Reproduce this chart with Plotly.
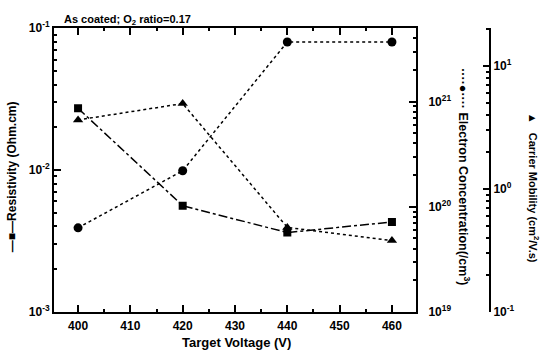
import plotly.graph_objects as go

voltage = [400, 420, 440, 460]
resistivity = [0.0272, 0.0056, 0.00362, 0.0043]
electron_conc = [6.3e19, 2.2e20, 3.7e21, 3.7e21]
mobility = [3.65, 4.96, 0.487, 0.38]

x_ticks = [400, 410, 420, 430, 440, 450, 460]
x_minor = [405, 415, 425, 435, 445, 455]
res_decades = [-3, -2, -1]
conc_decades = [19, 20, 21]
mob_decades = [-1, 0, 1]
minor_digits = [2, 3, 4, 5, 6, 7, 8, 9]


def decade_ticks(decades, lo, hi):
    vals, text = [], []
    for e in decades:
        vals.append(10.0 ** e)
        text.append("10<sup>%d</sup>" % e)
        for d in minor_digits:
            v = float(d) * 10.0 ** e
            if lo <= v <= hi:
                vals.append(v)
                text.append("")
    return vals, text


def majors(decades):
    return [10.0 ** e for e in decades]


res_vals, res_text = decade_ticks(res_decades, 1e-3, 1e-1)
conc_vals, conc_text = decade_ticks(conc_decades, 1e19, 10 ** 21.7)
mob_vals, mob_text = decade_ticks(mob_decades, 0.1, 10 ** 1.31)

FONT = dict(family="Liberation Sans, Arial, sans-serif", size=12, color="black", weight="bold")

fig = go.Figure()
fig.add_trace(go.Scatter(x=voltage, y=resistivity, mode="lines+markers",
                         line=dict(color="black", width=1.5, dash="dashdot"),
                         marker=dict(symbol="square", size=8, color="black"),
                         yaxis="y", showlegend=False))
fig.add_trace(go.Scatter(x=voltage, y=electron_conc, mode="lines+markers",
                         line=dict(color="black", width=1.5, dash="dot"),
                         marker=dict(symbol="circle", size=9, color="black"),
                         yaxis="y2", showlegend=False))
fig.add_trace(go.Scatter(x=voltage, y=mobility, mode="lines+markers",
                         line=dict(color="black", width=1.5, dash="dot"),
                         marker=dict(symbol="triangle-up", size=9, color="black"),
                         yaxis="y3", showlegend=False))

ybot = (358 - 317) / 358
ytop = (358 - 20) / 358
XR = [395.4, 464.6]
Y1R, Y2R, Y3R = [-3, -1], [19, 21.7], [-1, 1.31]
MOBPOS = 490 / 541

axis_common = dict(showline=True, linecolor="black", linewidth=2, showgrid=False,
                   zeroline=False, ticks="inside", tickcolor="black", tickwidth=1.5,
                   tickfont=FONT)
major_common = dict(showline=False, showgrid=False, zeroline=False, ticks="inside",
                    tickcolor="black", tickwidth=1.5, ticklen=7, showticklabels=False)

fig.update_layout(
    width=541, height=358,
    margin=dict(l=0, r=0, t=0, b=0),
    paper_bgcolor="white", plot_bgcolor="white",
    font=FONT,
    xaxis=dict(domain=[54 / 541, 416 / 541], range=XR,
               tickvals=x_ticks + x_minor,
               ticktext=[str(v) for v in x_ticks] + [""] * len(x_minor),
               ticklen=3, mirror="ticks", anchor="y", ticklabelstandoff=2, **axis_common),
    xaxis2=dict(overlaying="x", range=XR, tickvals=x_ticks, mirror="ticks",
                side="bottom", anchor="y", **major_common),
    yaxis=dict(type="log", domain=[ybot, ytop], range=Y1R,
               tickvals=res_vals, ticktext=res_text, ticklen=3,
               anchor="x", **axis_common),
    yaxis4=dict(type="log", overlaying="y", side="left", range=Y1R,
                tickvals=majors(res_decades), anchor="x", **major_common),
    yaxis2=dict(type="log", overlaying="y", side="right", range=Y2R,
                tickvals=conc_vals, ticktext=conc_text, ticklen=3,
                anchor="x", ticklabelstandoff=8, **axis_common),
    yaxis5=dict(type="log", overlaying="y", side="right", range=Y2R,
                tickvals=majors(conc_decades), anchor="x", **major_common),
    yaxis3=dict(type="log", overlaying="y", side="right", range=Y3R,
                anchor="free", position=MOBPOS,
                tickvals=mob_vals, ticktext=mob_text, ticklen=3,
                **axis_common),
    yaxis6=dict(type="log", overlaying="y", side="right", range=Y3R,
                anchor="free", position=MOBPOS,
                tickvals=majors(mob_decades), **major_common),
    annotations=[
        dict(text="As coated; O<sub>2</sub> ratio=0.17", x=62 / 541, y=(358 - 12) / 358,
             xref="paper", yref="paper", showarrow=False, xanchor="left", yanchor="middle",
             font=dict(FONT, size=11)),
        dict(text="Target Voltage (V)", x=236 / 541, y=(358 - 349) / 358,
             xref="paper", yref="paper", showarrow=False, xanchor="center", yanchor="middle",
             font=dict(FONT, size=13)),
        dict(text="—■—Resistivity (Ohm.cm)", x=12 / 541, y=(358 - 176) / 358,
             xref="paper", yref="paper", showarrow=False, textangle=-90,
             xanchor="center", yanchor="middle", font=FONT),
        dict(text="····●···· Electron Concentration(/cm<sup>3</sup>)", x=464 / 541,
             y=(358 - 175) / 358, xref="paper", yref="paper", showarrow=False, textangle=90,
             xanchor="center", yanchor="middle", font=dict(FONT, size=12.5)),
        dict(text="▲   Carrier Mobility (cm<sup>2</sup>/V.s)", x=534 / 541,
             y=(358 - 187) / 358, xref="paper", yref="paper", showarrow=False, textangle=90,
             xanchor="center", yanchor="middle", font=dict(FONT, size=11)),
    ],
)

# dummy traces so the overlay (major tick) axes are drawn
fig.add_trace(go.Scatter(x=[None], y=[None], xaxis="x2", yaxis="y", showlegend=False, hoverinfo="skip"))
fig.add_trace(go.Scatter(x=[None], y=[None], xaxis="x", yaxis="y4", showlegend=False, hoverinfo="skip"))
fig.add_trace(go.Scatter(x=[None], y=[None], xaxis="x", yaxis="y5", showlegend=False, hoverinfo="skip"))
fig.add_trace(go.Scatter(x=[None], y=[None], xaxis="x", yaxis="y6", showlegend=False, hoverinfo="skip"))

fig.write_html("out.html", config={"displayModeBar": False},
               post_script="document.body.style.margin='0px';")
